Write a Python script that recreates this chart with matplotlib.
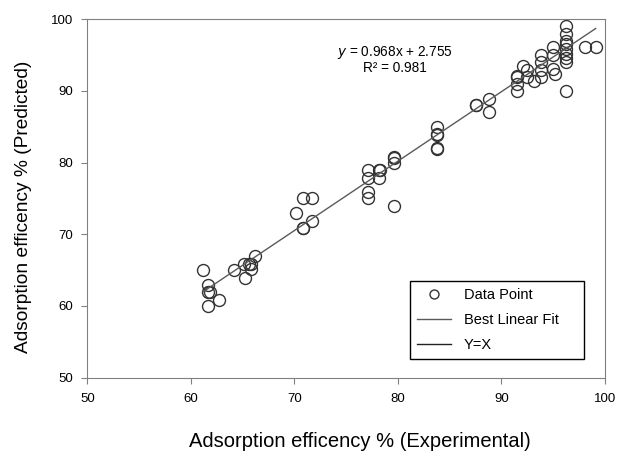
import matplotlib
matplotlib.use("Agg")
import matplotlib.pyplot as plt
import numpy as np

plt.rcParams['font.family'] = ['Liberation Sans', 'DejaVu Sans']

# experimental vs predicted adsorption efficiency (%)
exp_vals = [61.2, 61.7, 61.7, 61.8, 61.7, 62.7, 64.2, 65.1, 65.2, 65.8, 65.8, 65.6, 66.2,
            70.2, 70.8, 71.7, 70.8, 70.8, 71.7,
            77.1, 77.1, 77.1, 77.1, 78.2, 78.3, 78.2,
            79.6, 79.6, 79.6, 79.6,
            83.8, 83.8, 83.8, 83.8, 83.8,
            87.5, 87.5, 88.8, 88.8,
            91.5, 91.5, 91.5, 91.5, 92.1, 92.5, 92.5, 93.1,
            93.8, 93.8, 93.8, 93.8, 95.0, 95.0, 95.0, 95.2,
            96.25, 96.25, 96.25, 96.25, 96.25, 96.25, 96.25, 96.25, 96.25,
            98.1, 99.1]
pred_vals = [65.0, 62.9, 62.0, 62.0, 60.0, 60.9, 65.0, 65.9, 63.9, 65.9, 65.1, 65.8, 67.0,
             72.9, 75.0, 75.0, 70.8, 70.9, 71.9,
             78.9, 77.9, 75.9, 75.0, 78.9, 78.9, 77.8,
             80.8, 80.6, 79.9, 74.0,
             85.0, 83.9, 84.0, 81.9, 82.0,
             88.0, 88.0, 88.9, 87.0,
             91.9, 92.0, 91.0, 90.0, 93.5, 92.9, 91.9, 91.3,
             95.0, 94.0, 92.9, 91.9, 96.1, 95.0, 93.1, 92.4,
             99.0, 97.9, 97.0, 96.5, 95.8, 95.1, 94.5, 94.0, 90.0,
             96.1, 96.1]
slope = 0.968
intercept = 2.755
r2 = 0.981
ticks = [50, 60, 70, 80, 90, 100]

fig = plt.figure(figsize=(6.18, 4.53), dpi=100)
ax = fig.add_axes([0.1413, 0.1662, 0.8377, 0.7918])

xs = np.array([min(exp_vals), max(exp_vals)])
ax.plot(exp_vals, pred_vals, 'o', ms=8.6, mfc='none', mec='#333333', mew=1.0, label='Data Point')
ax.plot(xs, slope * xs + intercept, '-', color='#5a5a5a', lw=1.0, label='Best Linear Fit')
ax.plot([], [], '-', color='#222222', lw=1.0, label='Y=X')

ax.set_xlim(50, 100)
ax.set_ylim(50, 100)
ax.set_xticks(ticks)
ax.set_yticks(ticks)
ax.tick_params(direction='out', length=4, color='#808080', labelsize=9.5)
ax.tick_params(axis='x', pad=7)
ax.tick_params(axis='y', pad=6)
for s in ax.spines.values():
    s.set_color('#808080')

ax.text(0.594, 0.93, '$y$ = %.3fx + %.3f\nR² = %.3f' % (slope, intercept, r2),
        transform=ax.transAxes, ha='center', va='top', fontsize=9.8, linespacing=1.0)

leg = ax.legend(loc='lower left', bbox_to_anchor=(0.623, 0.052, 0.336, 0.212), mode='expand',
                fontsize=10.5, fancybox=False, framealpha=1, edgecolor='black',
                handlelength=2.3, handletextpad=0.9, borderpad=0.5, labelspacing=0.75,
                markerscale=0.75, borderaxespad=0)
leg.get_frame().set_linewidth(1.0)

ax.set_xlabel('Adsorption efficency % (Experimental)', fontsize=14.5)
ax.xaxis.set_label_coords(0.527, -0.151)
ax.set_ylabel('Adsorption efficency % (Predicted)', fontsize=13.8)
ax.yaxis.label.set_va('center')
ax.yaxis.set_label_coords(-0.124, 0.477)

fig.savefig('out.png', dpi=100)
